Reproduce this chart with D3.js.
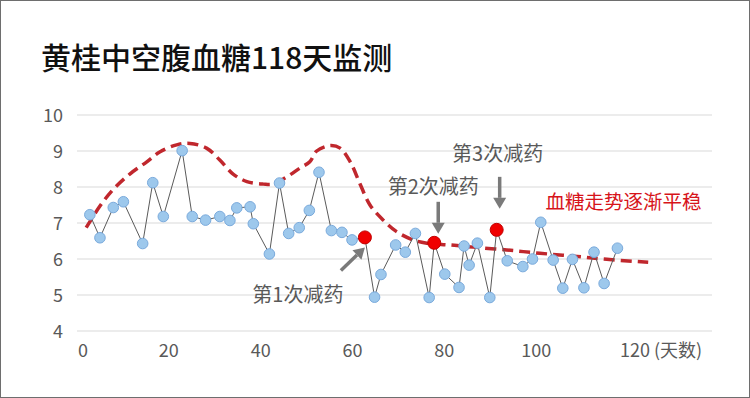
<!DOCTYPE html>
<html>
<head>
<meta charset="utf-8">
<script src="https://cdn.jsdelivr.net/npm/d3@7"></script>
<style>
  html, body { margin: 0; padding: 0; background: #fff; }
  svg { display: block; font-family: "Noto Sans CJK SC", "Noto Sans", sans-serif; }
</style>
</head>
<body>
<svg id="chart" width="750" height="398"></svg>
<script>
// measurement days and fasting glucose (mmol/L)
const days = [2.8, 5.0, 7.9, 10.1, 14.3, 16.5, 18.8, 22.9, 25.1, 28.0,
  31.1, 33.3, 34.8, 37.7, 38.4, 41.9, 44.1, 46.1, 48.4, 50.6,
  52.7, 55.4, 57.7, 59.9, 62.7, 64.8, 66.2, 69.4, 71.5, 73.7,
  76.7, 77.8, 80.1, 83.2, 84.3, 85.4, 87.2, 89.9, 91.4, 93.7,
  97.1, 99.2, 101.0, 103.7, 105.8, 107.9, 110.4, 112.6, 114.8, 117.7];
const glucose = [7.23, 6.59, 7.43, 7.59, 6.43, 8.12, 7.18, 9.01, 7.18, 7.08,
  7.18, 7.07, 7.42, 7.45, 6.98, 6.14, 8.11, 6.71, 6.87, 7.35,
  8.41, 6.79, 6.74, 6.53, 6.60, 4.94, 5.57, 6.39, 6.19, 6.71,
  4.93, 6.45, 5.58, 5.21, 6.36, 5.83, 6.44, 4.93, 6.81, 5.95,
  5.79, 6.00, 7.02, 5.97, 5.19, 5.99, 5.20, 6.19, 5.32, 6.30];

// days the dose was reduced
const reductionDays = [62.7, 77.8, 91.4];
const reductionLabels = ['第1次减药', '第2次减药', '第3次减药'];

// hand drawn trend curve
const trendDays = [2.0, 5.0, 7.8, 11.5, 15.2, 18.1, 21.7, 24.6, 28.2, 31.1,
  34.0, 37.0, 40.6, 42.7, 45.7, 48.6, 50.7, 52.2, 55.1, 57.3,
  59.5, 61.6, 63.8, 66.7, 69.6, 73.2, 76.2, 81.2, 86.3, 93.6,
  100.8, 108.1, 115.4, 124.4];
const trendValues = [6.87, 7.47, 7.92, 8.36, 8.70, 8.98, 9.17, 9.21, 9.08, 8.75,
  8.36, 8.15, 8.08, 8.08, 8.28, 8.53, 8.70, 9.00, 9.15, 9.08,
  8.70, 8.10, 7.50, 7.08, 6.76, 6.53, 6.44, 6.39, 6.33, 6.25,
  6.16, 6.08, 5.99, 5.91];

const xTicks = [0, 20, 40, 60, 80, 100, 120];
const yTicks = [4, 5, 6, 7, 8, 9, 10];
const title = '黄桂中空腹血糖118天监测';
const trendNote = '血糖走势逐渐平稳';

const svg = d3.select('#chart');
const W = 750, H = 398;
const plotLeft = 77, plotRight = 712;

const x = d3.scaleLinear().domain([0, 120]).range([plotLeft, 628]);
const y = d3.scaleLinear().domain([4, 10]).range([331, 115]);

// frame
svg.append('rect')
  .attr('x', 0.5).attr('y', 0.5)
  .attr('width', W - 1).attr('height', H - 1)
  .attr('fill', '#fff')
  .attr('stroke', '#6e6e6e');

svg.append('text')
  .attr('x', 41).attr('y', 69)
  .attr('font-size', 30)
  .attr('font-weight', 500)
  .attr('fill', '#111')
  .text(title);

// gridlines + y labels
const grid = svg.append('g');
grid.selectAll('line')
  .data(yTicks)
  .enter().append('line')
  .attr('x1', plotLeft).attr('x2', plotRight)
  .attr('y1', d => y(d)).attr('y2', d => y(d))
  .attr('stroke', '#d9d9d9')
  .attr('stroke-width', 1);

grid.selectAll('text')
  .data(yTicks)
  .enter().append('text')
  .attr('x', 63)
  .attr('y', d => y(d) + 7)
  .attr('text-anchor', 'end')
  .attr('font-size', 18)
  .attr('fill', '#595959')
  .text(d => d);

// x labels (first one sits a little right of the axis start in the original)
const xl = svg.append('g');
xl.selectAll('text')
  .data(xTicks)
  .enter().append('text')
  .attr('x', d => d === 120 ? x(d) - 8 : (d === 0 ? x(d) + 6 : x(d)))
  .attr('y', 357)
  .attr('text-anchor', d => d === 120 ? 'start' : 'middle')
  .attr('font-size', 18)
  .attr('fill', '#595959')
  .text(d => d === 120 ? d + ' (天数)' : d);

// trend (dashed)
const trendLine = d3.line()
  .x((d, i) => x(trendDays[i]))
  .y(d => y(d))
  .curve(d3.curveCatmullRom);

svg.append('path')
  .datum(trendValues)
  .attr('d', trendLine)
  .attr('fill', 'none')
  .attr('stroke', '#c0272d')
  .attr('stroke-width', 3.5)
  .attr('stroke-dasharray', '11 6');

// measured series
const pts = days.map((d, i) => ({ day: d, v: glucose[i], cut: reductionDays.includes(d) }));

svg.append('path')
  .datum(pts)
  .attr('d', d3.line().x(d => x(d.day)).y(d => y(d.v)))
  .attr('fill', 'none')
  .attr('stroke', '#5a5a5a')
  .attr('stroke-width', 1);

svg.append('g')
  .selectAll('circle')
  .data(pts.filter(p => !p.cut))
  .enter().append('circle')
  .attr('cx', d => x(d.day))
  .attr('cy', d => y(d.v))
  .attr('r', 5.3)
  .attr('fill', '#9dc8ec')
  .attr('stroke', '#7aaadc')
  .attr('stroke-width', 1);

svg.append('g')
  .selectAll('circle')
  .data(pts.filter(p => p.cut))
  .enter().append('circle')
  .attr('cx', d => x(d.day))
  .attr('cy', d => y(d.v))
  .attr('r', 6.5)
  .attr('fill', '#f00000')
  .attr('stroke', '#c00000')
  .attr('stroke-width', 1);

// annotations: arrows pointing at the reduction points
// [tailDx, tailDy, tipDx, tipDy, labelDx, labelDy]
const annoOffsets = [
  [-24, 33, 0, 10, -67, 65],
  [4, -41, 4, -9, -1, -49],
  [3, -53, 3, -21, 1, -69]
];

const anno = svg.append('g');
reductionDays.forEach((d, i) => {
  const p = pts.find(q => q.day === d);
  const px = x(p.day), py = y(p.v);
  const [tx, ty, hx, hy, lx, ly] = annoOffsets[i];
  const x1 = px + tx, y1 = py + ty, x2 = px + hx, y2 = py + hy;
  const ang = Math.atan2(y2 - y1, x2 - x1);
  const headLen = 11, headW = 6.5;
  const bx = x2 - headLen * Math.cos(ang), by = y2 - headLen * Math.sin(ang);

  anno.append('line')
    .attr('x1', x1).attr('y1', y1)
    .attr('x2', bx).attr('y2', by)
    .attr('stroke', '#7a7a7a')
    .attr('stroke-width', 3.5);

  const nx = -Math.sin(ang), ny = Math.cos(ang);
  anno.append('path')
    .attr('d', `M${x2},${y2} L${bx + nx * headW},${by + ny * headW} L${bx - nx * headW},${by - ny * headW} Z`)
    .attr('fill', '#7a7a7a');

  anno.append('text')
    .attr('x', px + lx).attr('y', py + ly)
    .attr('text-anchor', 'middle')
    .attr('font-size', 20)
    .attr('fill', '#595959')
    .text(reductionLabels[i]);
});

svg.append('text')
  .attr('x', x(119)).attr('y', y(7.4))
  .attr('text-anchor', 'middle')
  .attr('font-size', 19.5)
  .attr('fill', '#d7141a')
  .text(trendNote);
</script>
</body>
</html>
